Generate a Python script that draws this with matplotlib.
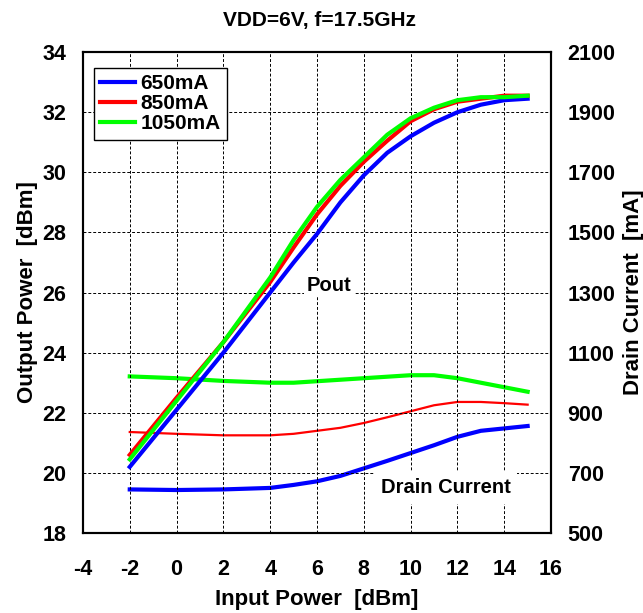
import matplotlib
matplotlib.use("Agg")
import matplotlib.pyplot as plt

plt.rcParams["font.family"] = ["Liberation Sans", "DejaVu Sans"]
plt.rcParams["font.weight"] = "bold"
plt.rcParams["axes.unicode_minus"] = False

# Input power sweep [dBm]
pin = [-2, 0, 2, 4, 5, 6, 7, 8, 9, 10, 11, 12, 13, 14, 15]

# Output power [dBm]
pout_650 = [20.2, 22.1, 24.0, 26.0, 27.0, 27.95, 29.0, 29.9, 30.65, 31.2, 31.65, 32.0, 32.25, 32.4, 32.45]
pout_850 = [20.6, 22.5, 24.35, 26.35, 27.5, 28.6, 29.55, 30.35, 31.05, 31.7, 32.1, 32.35, 32.45, 32.55, 32.55]
pout_1050 = [20.45, 22.4, 24.35, 26.5, 27.75, 28.85, 29.75, 30.5, 31.25, 31.8, 32.15, 32.4, 32.5, 32.5, 32.55]

# Drain current [mA]
id_650 = [645, 643, 645, 650, 660, 672, 690, 715, 740, 766, 792, 820, 840, 848, 856]
id_850 = [836, 830, 825, 825, 830, 840, 850, 866, 885, 905, 925, 936, 936, 932, 927]
id_1050 = [1021, 1015, 1006, 1000, 1000, 1005, 1010, 1015, 1020, 1025, 1025, 1015, 1000, 985, 970]

labels = ["650mA", "850mA", "1050mA"]
colors = ["#0000ff", "#ff0000", "#00ff00"]

fig = plt.figure(figsize=(6.43, 6.13), dpi=100)
ax = fig.add_axes([0.129, 0.1305, 0.728, 0.7845])
ax2 = ax.twinx()

for p, c, lab in zip([pout_650, pout_850, pout_1050], colors, labels):
    ax.plot(pin, p, color=c, lw=3, label=lab, zorder=3)

ax2.plot(pin, id_650, color=colors[0], lw=3)
ax2.plot(pin, id_850, color=colors[1], lw=1.6)
ax2.plot(pin, id_1050, color=colors[2], lw=3)

ax.set_xlim(-4, 16)
ax.set_ylim(18, 34)
ax2.set_ylim(500, 2100)
ax.set_xticks(range(-4, 17, 2))
ax.set_yticks(range(18, 35, 2))
ax2.set_yticks(range(500, 2101, 200))

ax.grid(True, color="black", ls=(0, (3, 2)), lw=0.7)
ax.tick_params(axis="y", length=0, labelsize=15.5, pad=12)
ax.tick_params(axis="x", length=0, labelsize=15.5, pad=19)
ax2.tick_params(length=0, labelsize=15.5, pad=12)
for a in (ax, ax2):
    for lbl in a.get_xticklabels() + a.get_yticklabels():
        lbl.set_fontweight("bold")
    for s in a.spines.values():
        s.set_linewidth(1.5)

ax.set_xlabel("Input Power  [dBm]", fontsize=16, fontweight="bold", labelpad=6)
ax.set_ylabel("Output Power  [dBm]", fontsize=16, fontweight="bold", labelpad=3)
ax2.set_ylabel("Drain Current  [mA]", fontsize=16, fontweight="bold", labelpad=5)
fig.text(0.497, 0.967, "VDD=6V, f=17.5GHz", fontsize=15, fontweight="bold",
         ha="center", va="center")

ax.text(6.5, 26.25, "Pout", fontsize=14.5, fontweight="bold", ha="center", va="center",
        bbox=dict(facecolor="white", edgecolor="none", pad=2), zorder=2)
ax.text(11.5, 19.5, "Drain Current", fontsize=14.5, fontweight="bold", ha="center", va="center",
        bbox=dict(facecolor="white", edgecolor="none", pad=5), zorder=2)

leg = ax.legend(loc="upper left", bbox_to_anchor=(0.023, 0.967), borderaxespad=0,
                fontsize=15, handlelength=1.7, handletextpad=0.25, borderpad=0.3,
                labelspacing=0.05, fancybox=False, framealpha=1, edgecolor="black")
leg.get_frame().set_linewidth(1)
for t in leg.get_texts():
    t.set_fontweight("bold")
ax.set_zorder(ax2.get_zorder() + 1)
ax.patch.set_visible(False)

fig.savefig("out.png", dpi=100)
